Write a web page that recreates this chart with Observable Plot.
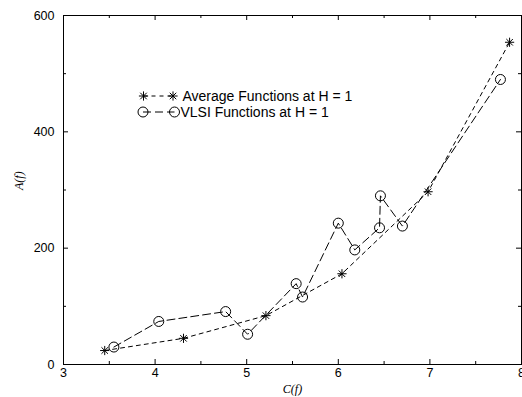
<!DOCTYPE html>
<html>
<head>
<meta charset="utf-8">
<script src="https://cdn.jsdelivr.net/npm/d3@7"></script>
<script src="https://cdn.jsdelivr.net/npm/@observablehq/plot@0.6"></script>
<style>
  html, body { margin: 0; padding: 0; background: white; }
  #chart { position: relative; width: 522px; height: 397px; }
</style>
</head>
<body>
<div id="chart"></div>
<script>
// ---- Data ----
const avgC = [3.45, 4.31, 5.21, 6.04, 6.98, 7.87];
const avgA = [24, 45, 84, 156, 297, 554];

const vlsiC = [3.55, 4.04, 4.77, 5.01, 5.54, 5.61, 6.00, 6.18, 6.45, 6.46, 6.70, 7.77];
const vlsiA = [30, 74, 91, 52, 139, 116, 243, 197, 235, 290, 238, 490];

const seriesNames = ["Average Functions at H = 1", "VLSI Functions at H = 1"];

const xMajor = [3, 4, 5, 6, 7, 8];
const xMinor = [3.5, 4.5, 5.5, 6.5, 7.5];
const yMajor = [0, 200, 400, 600];
const yMinor = [100, 300, 500];

const xLabel = "C(f)";
const yLabel = "A(f)";

// ---- Tables ----
const avg = avgC.map((c, i) => ({c, a: avgA[i]}));
const vlsi = vlsiC.map((c, i) => ({c, a: vlsiA[i]}));

// ---- Layout ----
const W = 522, H = 397;
const mL = 63, mR = 1, mT = 15, mB = 33;
const plotW = W - mL - mR, plotH = H - mT - mB;

// 8-armed star (gnuplot point type 3)
const star = {
  draw(ctx, size) {
    const r = Math.sqrt(size / Math.PI);
    const d = r * Math.SQRT1_2;
    ctx.moveTo(-r, 0); ctx.lineTo(r, 0);
    ctx.moveTo(0, -r); ctx.lineTo(0, r);
    ctx.moveTo(-d, -d); ctx.lineTo(d, d);
    ctx.moveTo(-d, d); ctx.lineTo(d, -d);
  }
};

const avgDash = "4,4";
const vlsiDash = "8,4";

const chart = Plot.plot({
  width: W, height: H,
  marginLeft: mL, marginRight: mR, marginTop: mT, marginBottom: mB,
  style: {fontFamily: "'Liberation Sans', Arial, sans-serif", fontSize: "12.5px", background: "white", color: "black"},
  x: {domain: [3, 8]},
  y: {domain: [0, 600]},
  marks: [
    // tick labels
    Plot.axisX(xMajor, {tickSize: 0, tickPadding: 4, label: null}),
    Plot.axisY(yMajor, {tickSize: 0, tickPadding: 9, label: null}),
    // inward ticks on all four sides
    Plot.tickX(xMajor, {x: d => d, insetTop: plotH - 5, stroke: "black"}),
    Plot.tickX(xMinor, {x: d => d, insetTop: plotH - 3, stroke: "black"}),
    Plot.tickX(xMajor, {x: d => d, insetBottom: plotH - 5, stroke: "black"}),
    Plot.tickX(xMinor, {x: d => d, insetBottom: plotH - 3, stroke: "black"}),
    Plot.tickY(yMajor, {y: d => d, insetRight: plotW - 5, stroke: "black"}),
    Plot.tickY(yMinor, {y: d => d, insetRight: plotW - 3, stroke: "black"}),
    Plot.tickY(yMajor, {y: d => d, insetLeft: plotW - 5, stroke: "black"}),
    Plot.tickY(yMinor, {y: d => d, insetLeft: plotW - 3, stroke: "black"}),
    Plot.frame({stroke: "black"}),
    // axis titles
    Plot.text([xLabel], {text: d => d, frameAnchor: "bottom", dy: 28, fontStyle: "italic",
      fontFamily: "'Liberation Serif', 'Times New Roman', serif", fontSize: 12}),
    Plot.text([yLabel], {text: d => d, frameAnchor: "left", dx: -44, rotate: -90, fontStyle: "italic",
      fontFamily: "'Liberation Serif', 'Times New Roman', serif", fontSize: 12}),
    // series
    Plot.line(avg, {x: "c", y: "a", stroke: "black", strokeWidth: 1, strokeDasharray: avgDash}),
    Plot.dot(avg, {x: "c", y: "a", symbol: star, r: 4.6, stroke: "black", strokeWidth: 1}),
    Plot.line(vlsi, {x: "c", y: "a", stroke: "black", strokeWidth: 1, strokeDasharray: vlsiDash}),
    Plot.dot(vlsi, {x: "c", y: "a", symbol: "circle", r: 5, fill: "none", stroke: "black", strokeWidth: 1})
  ]
});

document.getElementById("chart").appendChild(chart);

// ---- Legend (inside the plot, gnuplot style) ----
const svg = d3.select(chart);
const leg = svg.append("g").attr("class", "legend").attr("text-anchor", "start");
const rows = [
  {name: seriesNames[0], dash: avgDash, sym: star, y: 96, x1: 143.5, x2: 173, tx: 182.5},
  {name: seriesNames[1], dash: vlsiDash, sym: d3.symbolCircle, y: 112, x1: 143, x2: 174.5, tx: 180.5}
];
rows.forEach((r, i) => {
  leg.append("line")
    .attr("x1", r.x1).attr("x2", r.x2).attr("y1", r.y).attr("y2", r.y)
    .attr("stroke", "black").attr("stroke-width", 1).attr("stroke-dasharray", r.dash);
  const size = i === 0 ? Math.PI * 4.6 * 4.6 : Math.PI * 25;
  [r.x1, r.x2].forEach(x => {
    leg.append("path")
      .attr("d", d3.symbol(r.sym, size)())
      .attr("transform", `translate(${x},${r.y})`)
      .attr("fill", "none").attr("stroke", "black").attr("stroke-width", 1);
  });
  leg.append("text")
    .attr("x", r.tx).attr("y", r.y).attr("dy", "0.35em")
    .attr("text-anchor", "start")
    .style("font-family", "'Liberation Sans', Arial, sans-serif")
    .style("font-size", "14px")
    .attr("fill", "black")
    .text(r.name);
});
</script>
</body>
</html>
